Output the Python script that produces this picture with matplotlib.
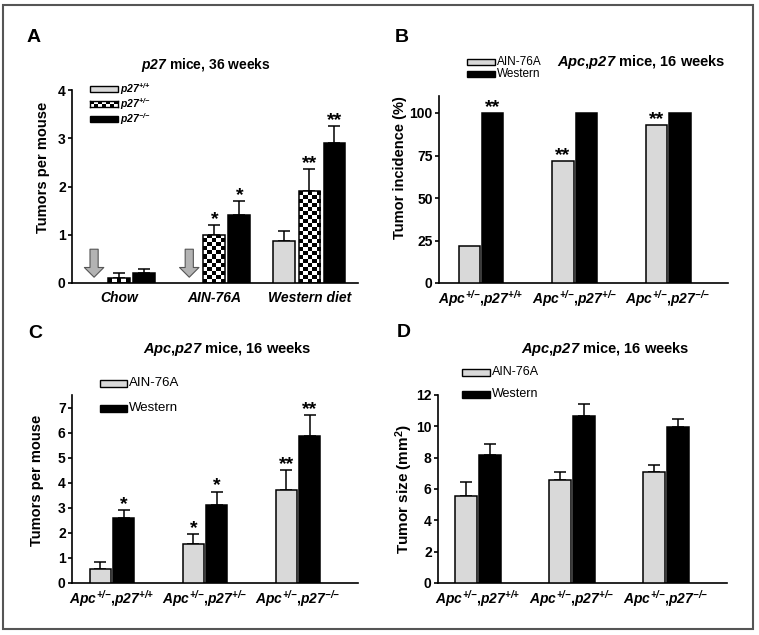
import numpy as np
import matplotlib
matplotlib.use('Agg')
import matplotlib.pyplot as plt
from matplotlib.patches import Rectangle

plt.rcParams['font.family'] = 'Liberation Sans'
plt.rcParams['font.weight'] = 'bold'
plt.rcParams['axes.labelweight'] = 'bold'
plt.rcParams['mathtext.fontset'] = 'custom'
plt.rcParams['mathtext.rm'] = 'Liberation Sans:bold:italic'
plt.rcParams['mathtext.it'] = 'Liberation Sans:bold:italic'
plt.rcParams['mathtext.bf'] = 'Liberation Sans:bold'
plt.rcParams['mathtext.sf'] = 'Liberation Sans:italic'

# ---- data ----
diets = ['Chow', 'AIN-76A', 'Western diet']
a_wt = [0, 0, 0.87]
a_wt_err = [0, 0, 0.21]
a_het = [0.1, 1.0, 1.9]
a_het_err = [0.1, 0.2, 0.47]
a_ko = [0.2, 1.4, 2.9]
a_ko_err = [0.1, 0.3, 0.35]
a_het_stars = ['', '*', '**']
a_ko_stars = ['', '*', '**']
a_labels = [r'$\mathsf{p27}^{\mathsf{+}\mathsf{/}\mathsf{+}}$',
            r'$\mathsf{p27}^{\mathsf{+}\mathsf{/}\mathsf{-}}$',
            r'$\mathsf{p27}^{\mathsf{-}\mathsf{/}\mathsf{-}}$']

genotypes = [r'$Apc^{{+}/{-}}$,$p27^{{+}/{+}}$',
             r'$Apc^{{+}/{-}}$,$p27^{{+}/{-}}$',
             r'$Apc^{{+}/{-}}$,$p27^{{-}/{-}}$']

b_ain = [22, 72, 93]
b_west = [100, 100, 100]
b_ain_stars = ['', '**', '**']
b_west_stars = ['**', '', '']

c_ain = [0.57, 1.57, 3.7]
c_ain_err = [0.27, 0.37, 0.8]
c_west = [2.6, 3.1, 5.85]
c_west_err = [0.3, 0.55, 0.85]
c_ain_stars = ['', '*', '**']
c_west_stars = ['*', '*', '**']

d_ain = [5.55, 6.55, 7.1]
d_ain_err = [0.9, 0.55, 0.45]
d_west = [8.2, 10.65, 9.97]
d_west_err = [0.65, 0.75, 0.53]

W, H = 759, 635
GRAY = '#d9d9d9'
fig = plt.figure(figsize=(W / 100, H / 100), dpi=100)


def fx(x):
    return x / W


def fy(y):
    return 1 - y / H


def px_axes(l, t, r, b):
    return fig.add_axes([fx(l), fy(b), (r - l) / W, (b - t) / H])


def style(ax, ylim, yticks, xlim):
    ax.set_ylim(*ylim)
    ax.set_xlim(*xlim)
    ax.set_yticks(yticks)
    for s in ['top', 'right']:
        ax.spines[s].set_visible(False)
    for s in ['left', 'bottom']:
        ax.spines[s].set_linewidth(1.2)
    ax.tick_params(axis='y', length=3, width=1.2, pad=1.5, labelsize=10)
    ax.tick_params(axis='x', length=0, pad=4, labelsize=10)


def bars(ax, x, vals, errs, color):
    rects = []
    for xi, v in zip(x, vals):
        if v == 0:
            rects.append(None)
            continue
        r = ax.bar(xi, v, width=0.23, color=color, edgecolor='black',
                   linewidth=1.1, zorder=3)[0]
        rects.append(r)
    if errs is not None:
        for xi, v, e in zip(x, vals, errs):
            if v == 0:
                continue
            ax.errorbar(xi, v, yerr=[[0], [e]], fmt='none', ecolor='black',
                        elinewidth=1.1, capsize=4, capthick=1.1, zorder=2)
    return rects


def stars(ax, x, tops, marks):
    for xi, t, m in zip(x, tops, marks):
        if m:
            ax.annotate(m, (xi, t), xytext=(0, 0.7), textcoords='offset points',
                        ha='center', va='baseline', fontsize=14, fontweight='bold')


def checker(ax, rect, sq=4):
    x0, y0 = rect.get_x(), rect.get_y()
    w, h = rect.get_width(), rect.get_height()
    p0 = ax.transData.transform((x0, y0))
    p1 = ax.transData.transform((x0 + w, y0 + h))
    nx = max(1, int(round((p1[0] - p0[0]) / sq)))
    ny = max(1, int(round((p1[1] - p0[1]) / sq)))
    grid = np.indices((ny, nx)).sum(axis=0) % 2
    im = ax.imshow(grid, cmap='gray', vmin=0, vmax=1, extent=(x0, x0 + w, y0, y0 + h),
                   origin='lower', interpolation='nearest', aspect='auto', zorder=2.5)
    im.set_clip_path(rect)
    rect.set_facecolor('none')


def legend(entries, l, r, rows, h, size, style_=None):
    for (kind, label), yc in zip(entries, rows):
        if kind == 'checker':
            cax = fig.add_axes([fx(l), fy(yc + h / 2), (r - l) / W, h / H])
            n = int(round((r - l) / 4))
            g = np.indices((2, n)).sum(axis=0) % 2
            cax.imshow(g, cmap='gray', interpolation='nearest', aspect='auto')
            cax.set_xticks([])
            cax.set_yticks([])
            for s in cax.spines.values():
                s.set_linewidth(1.0)
        else:
            fig.patches.append(Rectangle((fx(l), fy(yc + h / 2)), (r - l) / W, h / H,
                                         transform=fig.transFigure, facecolor=kind,
                                         edgecolor='black', linewidth=1.0))
        fig.text(fx(r + 2), fy(yc), label, ha='left', va='center', fontsize=size,
                 fontweight='normal', style=style_)


# ---- panel A ----
axA = px_axes(72, 90, 358, 283)
xs = np.arange(3)
stp = 0.263
style(axA, (0, 4), [0, 1, 2, 3, 4], (-0.495, 2.51))
bars(axA, xs - stp, a_wt, a_wt_err, GRAY)
het = bars(axA, xs, a_het, a_het_err, 'white')
bars(axA, xs + stp, a_ko, a_ko_err, 'black')
for r in het:
    checker(axA, r)
axA.set_xlim(-0.495, 2.51)
axA.set_ylim(0, 4)
stars(axA, xs, np.add(a_het, a_het_err), a_het_stars)
stars(axA, xs + stp, np.add(a_ko, a_ko_err), a_ko_stars)
for xi, v in zip(xs - stp, a_wt):
    if v == 0:
        axA.annotate('', xy=(xi, 0.12), xytext=(xi, 0.7),
                     arrowprops=dict(arrowstyle='simple,head_length=0.5,head_width=1.0,tail_width=0.42',
                                     fc='#b3b3b3', ec='#555555', lw=0.8,
                                     mutation_scale=14, shrinkA=0, shrinkB=0))
axA.set_xticks(xs)
axA.set_xticklabels(diets, style='italic')
axA.tick_params(axis='x', pad=6)
axA.set_ylabel('Tumors per mouse', fontsize=10.5)
axA.yaxis.set_label_coords(-0.077, 0.6)

# ---- panel B ----
axB = px_axes(439, 96, 728, 283)
style(axB, (0, 110), [0, 25, 50, 75, 100], (-0.449, 2.64))
off = 0.125
bars(axB, xs - off, b_ain, None, GRAY)
bars(axB, xs + off, b_west, None, 'black')
stars(axB, xs - off, b_ain, b_ain_stars)
stars(axB, xs + off, b_west, b_west_stars)
axB.set_xticks(xs)
axB.set_xticklabels(genotypes)
axB.set_ylabel('Tumor incidence (%)', fontsize=10.5)
axB.yaxis.set_label_coords(-0.111, 0.615)

# ---- panel C ----
axC = px_axes(72, 395, 358, 583)
style(axC, (0, 7.5), range(8), (-0.43, 2.645))
bars(axC, xs - off, c_ain, c_ain_err, GRAY)
bars(axC, xs + off, c_west, c_west_err, 'black')
stars(axC, xs - off, np.add(c_ain, c_ain_err), c_ain_stars)
stars(axC, xs + off, np.add(c_west, c_west_err), c_west_stars)
axC.set_xticks(xs)
axC.set_xticklabels(genotypes)
axC.set_ylabel('Tumors per mouse', fontsize=10.5)
axC.yaxis.set_label_coords(-0.098, 0.548)

# ---- panel D ----
axD = px_axes(438, 395, 727, 583)
style(axD, (0, 12), range(0, 13, 2), (-0.426, 2.649))
bars(axD, xs - off, d_ain, d_ain_err, GRAY)
bars(axD, xs + off, d_west, d_west_err, 'black')
axD.set_xticks(xs)
axD.set_xticklabels(genotypes)
axD.set_ylabel(r'Tumor size (mm$^\mathbf{2}$)', fontsize=11)
axD.yaxis.set_label_coords(-0.08, 0.5)

# ---- legends ----
legend([(GRAY, a_labels[0]), ('checker', a_labels[1]), ('black', a_labels[2])],
       90, 118, [89, 104, 119], 6, 7.5)
legend([(GRAY, 'AIN-76A'), ('black', 'Western')], 467, 495, [62, 74], 6, 8.5)
legend([(GRAY, 'AIN-76A'), ('black', 'Western')], 100, 127, [383, 408], 7, 9.5)
legend([(GRAY, 'AIN-76A'), ('black', 'Western')], 462, 490, [372, 394], 7, 9)

# ---- titles and letters ----
fig.text(fx(206), fy(65), r'$p27$ mice, 36 weeks', ha='center', va='center', fontsize=10)
fig.text(fx(641), fy(62), r'$Apc$,$p27$ mice, 16 weeks', ha='center', va='center', fontsize=10.5)
fig.text(fx(227), fy(349), r'$Apc$,$p27$ mice, 16 weeks', ha='center', va='center', fontsize=10.5)
fig.text(fx(605), fy(349), r'$Apc$,$p27$ mice, 16 weeks', ha='center', va='center', fontsize=10.5)
for letter, x, y in [('A', 27, 38), ('B', 395, 38), ('C', 28, 333), ('D', 397, 332)]:
    fig.text(fx(x), fy(y), letter, ha='left', va='center', fontsize=14, fontweight='bold')

fig.patches.append(Rectangle((fx(3), fy(629)), (753 - 3) / W, (629 - 5) / H,
                             transform=fig.transFigure, fill=False,
                             edgecolor='#555555', linewidth=1.5))

fig.savefig('out.png', dpi=100)
